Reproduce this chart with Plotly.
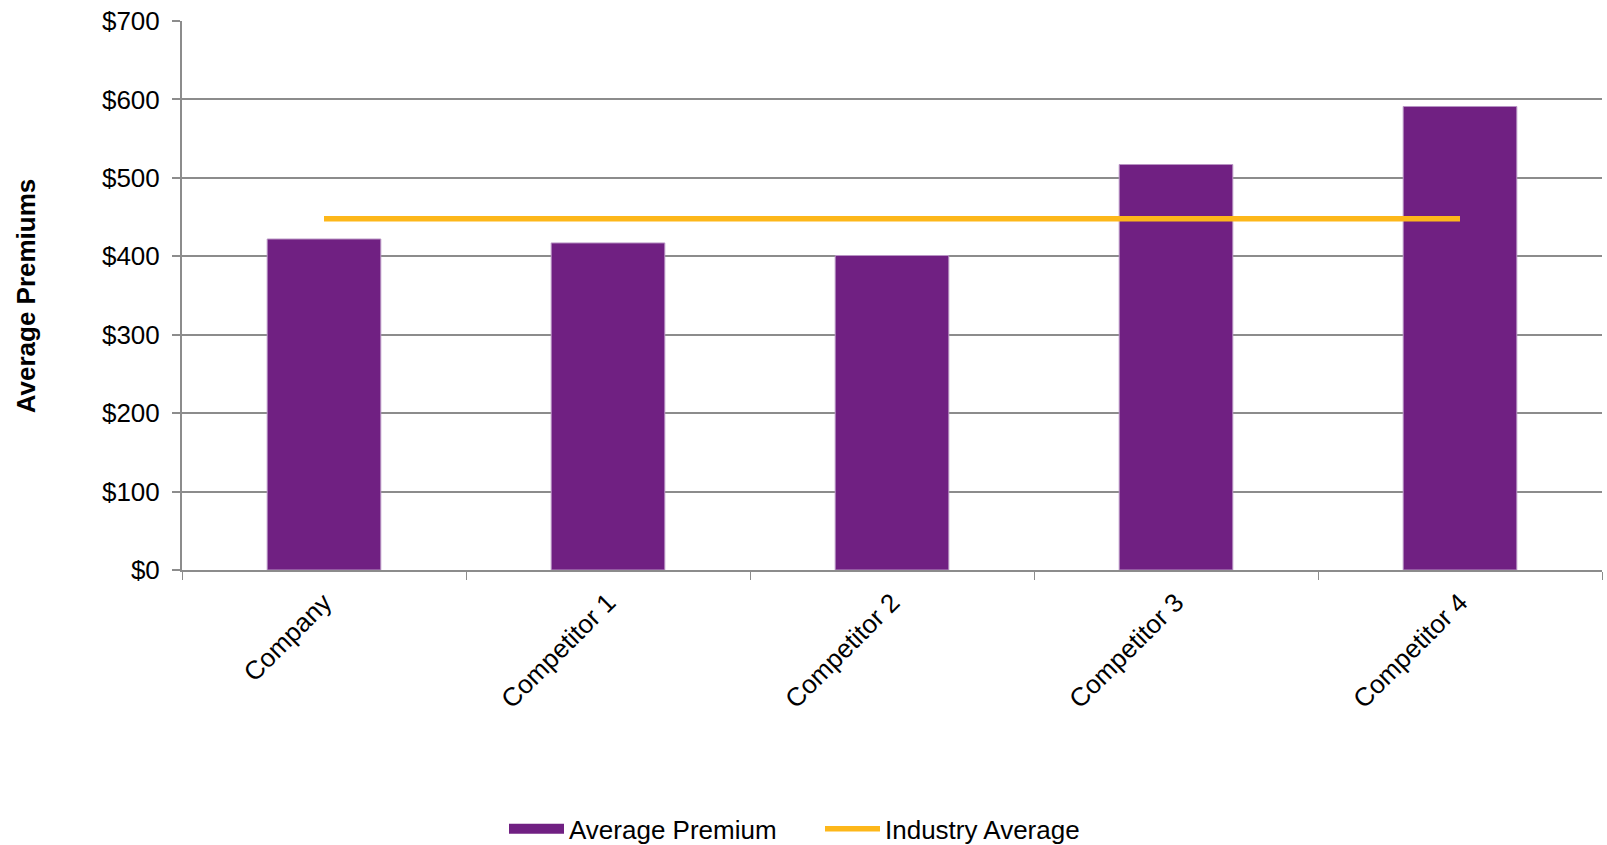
import plotly.graph_objects as go

# Average premium per carrier, with the industry-wide average for reference
categories = ["Company", "Competitor 1", "Competitor 2", "Competitor 3", "Competitor 4"]
average_premium = [422, 417, 401, 517, 591]
industry_average = [448, 448, 448, 448, 448]
y_tick_values = [0, 100, 200, 300, 400, 500, 600, 700]
y_tick_labels = ["$0", "$100", "$200", "$300", "$400", "$500", "$600", "$700"]

FONT = "Liberation Sans, Arial, sans-serif"
GRID = "#8c8c8c"
PURPLE = "#702082"
GOLD = "#FDB71A"

fig = go.Figure()

fig.add_trace(go.Bar(
    x=categories,
    y=average_premium,
    name="Average Premium",
    marker=dict(color=PURPLE, line=dict(color="#b894c4", width=1)),
    width=0.4,
    showlegend=False,
))

# Legend key for the bars, drawn as a wide swatch
fig.add_trace(go.Scatter(
    x=[None],
    y=[None],
    name="Average Premium",
    mode="lines",
    line=dict(color=PURPLE, width=13),
    hoverinfo="skip",
))

fig.add_trace(go.Scatter(
    x=categories,
    y=industry_average,
    name="Industry Average",
    mode="lines",
    line=dict(color=GOLD, width=5.5),
))

fig.update_layout(
    width=1607,
    height=845,
    margin=dict(l=182, r=5, t=21, b=275),
    paper_bgcolor="white",
    plot_bgcolor="white",
    font=dict(family=FONT, size=26, color="black"),
    showlegend=True,
    legend=dict(
        orientation="h",
        xref="container",
        yref="container",
        x=504 / 1607,
        xanchor="left",
        y=0.019,
        yanchor="middle",
        font=dict(size=26),
        itemwidth=55,
        entrywidth=246,
        traceorder="normal",
    ),
    annotations=[dict(
        text="<b>Average Premiums</b>",
        textangle=-90,
        xref="paper",
        yref="paper",
        x=-0.11,
        y=0.5,
        xanchor="center",
        yanchor="middle",
        showarrow=False,
        font=dict(family=FONT, size=26, color="black"),
    )],
)

fig.update_xaxes(
    type="category",
    tickangle=-45,
    showline=True,
    linecolor=GRID,
    linewidth=2,
    ticks="outside",
    tickson="boundaries",
    ticklen=8,
    tickcolor=GRID,
    tickwidth=1,
    showgrid=False,
    ticklabelstandoff=5,
    tickfont=dict(family=FONT, size=26, color="black"),
)

fig.update_yaxes(
    range=[0, 700],
    tickmode="array",
    tickvals=y_tick_values,
    ticktext=y_tick_labels,
    showgrid=True,
    gridcolor=GRID,
    gridwidth=1.5,
    showline=True,
    linecolor=GRID,
    linewidth=2,
    ticks="outside",
    ticklen=8,
    tickcolor=GRID,
    tickwidth=1.5,
    zeroline=False,
    ticklabelstandoff=7,
    tickfont=dict(family=FONT, size=26, color="black"),
)

fig.write_html("out.html")
